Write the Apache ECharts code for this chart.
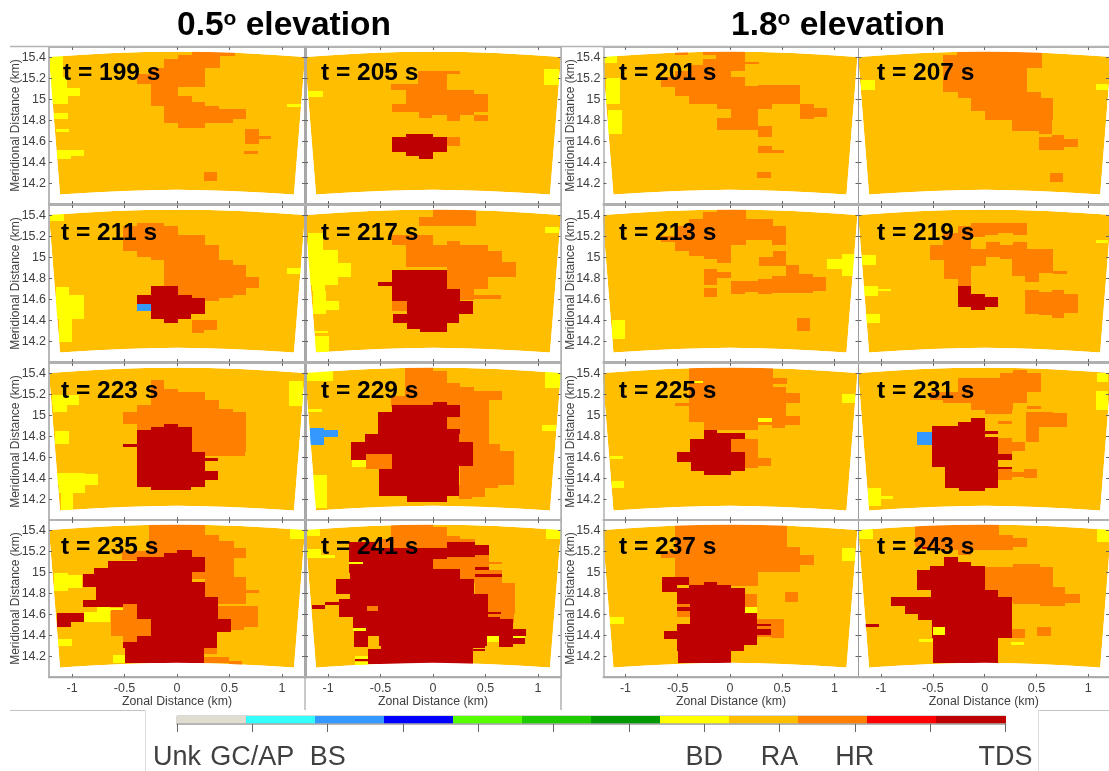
<!DOCTYPE html>
<html><head><meta charset="utf-8">
<style>html,body{margin:0;padding:0;background:#fff}#c{width:1109px;height:771px}</style>
<script src="https://cdn.jsdelivr.net/npm/echarts@6/dist/echarts.min.js"></script></head>
<body><div id="c"></div>
<script>
// class indices
const BS=2,BD=7,RA=8,HR=9,TDS=11;
const classColors=['#E0DCD0','#33FFFF','#3399FF','#0000FF','#55FF00','#1FCC00','#009900','#FFFF00','#FFBF00','#FF8000','#FF0000','#BF0000'];
const classTickLabels={0:'Unk',1:'GC/AP',2:'BS',7:'BD',8:'RA',9:'HR',11:'TDS'};
const classTicks=[0,1,2,3,4,5,6,7,8,9,10,11];
const classLabelTicks=[0,1,2,7,8,9,11];
const xTicks=[-1,-0.5,0,0.5,1];
const yTicks=[14.2,14.4,14.6,14.8,15,15.2,15.4];
// sector outline of the radar field (km)
const fieldTop=[[-1.22,15.405],[-0.9,15.425],[-0.6,15.443],[-0.3,15.452],[0,15.455],[0.3,15.452],[0.6,15.443],[0.9,15.425],[1.22,15.405]];
const fieldBottom=[[1.115,14.09],[0.8,14.11],[0.5,14.125],[0.25,14.132],[0,14.135],[-0.25,14.132],[-0.5,14.125],[-0.8,14.11],[-1.115,14.09]];
const titles=[199,205,201,207,211,217,213,219,223,229,225,231,235,241,237,243];
// each row: class, x0, x1, yTop, yBottom (km)
const c199=[[BD,-1.22,-1.09,15.41,15.21],[BD,-1.2,-1.05,15.21,15.11],[BD,-1.2,-.92,15.11,15.03],[BD,-1.2,-1.04,15.03,14.96],[BD,-1.2,-1.04,14.87,14.81],[BD,-1.15,-1.03,14.72,14.69],[BD,-1.14,-.89,14.52,14.46],[BD,-1.14,-1.01,14.46,14.43],[BD,1.05,1.18,14.96,14.93],
[HR,.14,.55,15.46,15.41],[HR,.01,.41,15.42,15.39],[HR,-.12,.41,15.39,15.3],[HR,-.25,.27,15.3,15.12],[HR,-.38,-.25,15.24,15.15],[HR,-.25,.01,15.12,15.03],[HR,-.25,.14,15.03,14.97],[HR,-.25,.27,14.97,14.94],[HR,-.12,.4,14.94,14.91],[HR,-.12,.66,14.91,14.81],[HR,-.12,.53,14.81,14.77],[HR,.01,.27,14.77,14.73],
[HR,.65,.78,14.72,14.57],[HR,.78,.9,14.65,14.62],[HR,.64,.77,14.51,14.48],[HR,.26,.38,14.31,14.22]];
const c205=[[BD,-1.19,-1.05,15.08,15.02],[BD,1.06,1.2,15.29,15.14],
[HR,.13,.26,15.27,15.24],[HR,-.14,.13,15.27,15.09],[HR,-.4,-.13,15.15,15.09],[HR,-.26,.39,15.09,15.05],[HR,-.26,.52,15.05,14.96],[HR,-.39,.52,14.96,14.88],[HR,-.13,-.01,14.88,14.82],[HR,-.01,.39,14.88,14.85],[HR,.13,.26,14.85,14.79],[HR,.39,.52,14.85,14.79],[HR,.13,.26,14.64,14.55],
[TDS,-.39,.13,14.64,14.5],[TDS,-.26,0,14.67,14.64],[TDS,-.26,0,14.5,14.46],[TDS,-.13,0,14.46,14.43]];
const c211=[[BD,-1.22,-1.08,15.41,15.35],[BD,-1.15,-1.03,14.72,14.64],[BD,-1.15,-.89,14.64,14.41],[BD,-1.12,-1,14.41,14.19],[BD,1.05,1.18,14.9,14.84],
[HR,-.38,-.12,15.33,15.3],[HR,-.51,.01,15.3,15.21],[HR,-.51,.27,15.21,15.12],[HR,-.51,.4,15.12,15.06],[HR,-.38,.4,15.06,15],[HR,-.25,.4,15,14.97],[HR,-.12,.53,14.97,14.93],[HR,-.12,.66,14.93,14.81],[HR,-.12,.78,14.81,14.73],[HR,.01,.78,14.73,14.71],[HR,.01,.66,14.71,14.64],[HR,.14,.53,14.64,14.61],[HR,.27,.4,14.61,14.58],[HR,.14,.38,14.4,14.31],[HR,.14,.26,14.31,14.28],
[TDS,-.25,.01,14.73,14.64],[TDS,-.38,.14,14.64,14.61],[TDS,-.38,.27,14.61,14.55],[TDS,-.25,.27,14.55,14.46],[TDS,-.25,.13,14.46,14.41],[TDS,-.12,.01,14.41,14.37],
[BS,-.38,-.25,14.55,14.49]];
const c217=[[BD,-1.19,-1.05,15.23,15.07],[BD,-1.19,-.91,15.07,14.95],[BD,-1.19,-.78,14.95,14.81],[BD,-1.17,-.91,14.81,14.74],[BD,-1.15,-1.03,14.74,14.68],[BD,-1.14,-1.02,14.68,14.58],[BD,-1.14,-.9,14.58,14.5],[BD,-1.14,-1.02,14.5,14.46],[BD,-1.12,-1,14.3,14.28],[BD,-1.12,-.99,14.25,14.1],[BD,1.07,1.2,15.29,15.23],
[HR,0,.41,15.46,15.39],[HR,-.13,.41,15.39,15.3],[HR,-.39,0,15.21,15.12],[HR,.13,.26,15.16,15.12],[HR,-.26,.52,15.12,15.06],[HR,-.26,.66,15.06,14.96],[HR,-.26,.79,14.96,14.91],[HR,.13,.79,14.91,14.81],[HR,.13,.52,14.81,14.7],[HR,.26,.39,14.7,14.59],[HR,.39,.65,14.64,14.6],[HR,-.39,-.25,14.58,14.49],
[TDS,-.52,-.39,14.76,14.73],[TDS,-.39,.13,14.88,14.58],[TDS,.13,.26,14.7,14.58],[TDS,-.25,.38,14.58,14.46],[TDS,-.38,.25,14.46,14.37],[TDS,-.25,.13,14.37,14.32],[TDS,-.12,.13,14.32,14.29]];
const c223=[[BD,1.07,1.2,15.33,15.09],[BD,-1.19,-.93,15.19,15.1],[BD,-1.18,-1.05,15.1,15.03],[BD,-1.16,-1.03,14.85,14.73],[BD,-1.14,-.88,14.45,14.44],[BD,-1.14,-.75,14.44,14.33],[BD,-1.12,-.88,14.33,14.26],[BD,-1.11,-.99,14.26,14.1],
[HR,-.25,-.12,15.34,15.25],[HR,-.25,.01,15.25,15.22],[HR,-.25,.27,15.22,15.15],[HR,-.25,.4,15.15,15.1],[HR,-.38,.4,15.1,15.06],[HR,-.38,.53,15.06,15.03],[HR,-.51,.66,15.03,14.92],[HR,-.38,.66,14.92,14.86],[HR,.14,.66,14.89,14.65],[HR,.27,.65,14.65,14.61],
[TDS,-.12,.01,14.92,14.89],[TDS,-.25,.14,14.89,14.86],[TDS,-.38,.14,14.86,14.65],[TDS,-.51,-.38,14.73,14.7],[TDS,-.38,.27,14.65,14.32],[TDS,.27,.39,14.59,14.56],[TDS,.27,.39,14.47,14.38],[TDS,-.25,.13,14.32,14.29]];
const c229=[[BD,-1.22,-.95,15.42,15.33],[BD,-1.19,-1.06,15.06,15.03],[BD,1.07,1.22,15.42,15.26],[BD,1.04,1.17,14.91,14.85],[BD,-1.14,-1.01,14.43,14.11],[BD,-.77,-.64,14.57,14.51],
[BS,-1.17,-1.04,14.88,14.72],[BS,-1.04,-.91,14.86,14.79],
[HR,-.27,0,15.46,15.42],[HR,-.27,.13,15.42,15.31],[HR,-.27,.26,15.31,15.27],[HR,-.27,.39,15.27,15.23],[HR,-.27,.66,15.23,15.15],[HR,-.4,.53,15.18,15.08],[HR,.13,.53,15.15,14.73],[HR,.26,.64,14.73,14.66],[HR,.26,.77,14.66,14.33],[HR,.25,.62,14.33,14.31],[HR,.25,.5,14.31,14.22],[HR,.25,.37,14.22,14.2],
[TDS,0,.13,15.13,15.1],[TDS,-.13,.26,15.1,14.98],[TDS,-.39,.13,15.1,14.98],[TDS,-.52,.13,15.03,14.87],[TDS,-.52,.26,14.87,14.82],[TDS,-.65,.25,14.82,14.73],[TDS,-.78,.38,14.75,14.57],[TDS,-.64,.38,14.57,14.52],[TDS,-.51,.25,14.52,14.23],[TDS,-.25,.13,14.23,14.17],
[HR,-.64,-.39,14.63,14.49]];
const c235=[[BD,1.08,1.21,15.41,15.32],[BD,-1.17,-1.04,14.99,14.82],[BD,-1.04,-.91,14.97,14.85],[BD,-.89,-.64,14.62,14.53],[BD,-.76,-.64,14.68,14.62],[BD,-.64,-.51,14.66,14.63],[BD,-1.13,-1,14.36,14.3],[BD,-.61,-.49,14.21,14.13],[BD,-.49,-.37,14.16,14.13],
[HR,-.27,.27,15.46,15.36],[HR,-.27,.4,15.36,15.3],[HR,-.27,.54,15.3,15.23],[HR,-.27,.66,15.23,15.14],[HR,-.52,-.27,15.2,15.12],[HR,.1,.54,15.14,14.94],[HR,.27,.66,14.96,14.7],[HR,.39,.77,14.68,14.48],[HR,.39,.64,14.48,14.45],[HR,.66,.78,14.83,14.8],[HR,.26,.38,14.28,14.22],[HR,.14,.5,14.19,14.13],[HR,.5,.62,14.15,14.1],
[BD,.14,.26,14.17,14.15],
[TDS,0,.14,15.21,15.15],[TDS,-.12,.14,15.18,15.15],[TDS,-.38,.27,15.15,15.11],[TDS,-.66,.27,15.11,15.04],[TDS,-.79,.27,15.04,15],[TDS,-.79,.14,15,14.98],[TDS,-.9,.14,14.98,14.91],[TDS,-.9,.27,14.91,14.86],[TDS,-.77,.27,14.86,14.76],[TDS,-.77,.39,14.76,14.74],[TDS,-.9,.39,14.74,14.67],[TDS,-.51,.39,14.67,14.55],[TDS,-.51,.51,14.55,14.43],[TDS,-.51,.38,14.43,14.28],[TDS,-.5,.26,14.28,14.13],[TDS,-1.14,-.89,14.61,14.53],[TDS,-1.14,-1.01,14.53,14.48],
[HR,-.51,-.38,14.7,14.62],[HR,-.63,-.38,14.64,14.55],[HR,-.63,-.25,14.55,14.39],[HR,-.51,-.38,14.39,14.33]];
const c241=[[BD,-1.22,-1.08,15.41,15.35],[BD,-1.2,-1.07,15.22,15.14],[BD,-1.07,-.93,15.17,15.14],[BD,1.08,1.22,15.41,15.32],[BD,.51,.63,14.39,14.33],
[HR,-.4,0,15.46,15.43],[HR,-.4,.13,15.43,15.35],[HR,-.4,.26,15.35,15.32],[HR,-.54,.4,15.32,15.29],[HR,-.54,.13,15.29,15.23],[HR,.39,.53,15.17,15.09],[HR,0,.53,15.15,15.02],[HR,.52,.66,15.1,15.08],[HR,.26,.53,15.08,14.9],[HR,.26,.66,15.02,14.9],[HR,.4,.78,14.9,14.6],[HR,.52,.77,14.6,14.52],
[TDS,.13,.4,15.29,15.26],[TDS,.13,.53,15.26,15.17],[TDS,-.8,-.54,15.29,15.22],[TDS,-.54,.13,15.23,15.13],[TDS,-.8,.4,15.22,15.15],[TDS,-.8,0,15.15,15.03],[TDS,-.8,.26,15.03,14.99],[TDS,-.79,.26,14.99,14.94],[TDS,-.92,.39,14.94,14.79],[TDS,-.79,.52,14.79,14.75],[TDS,-1.03,-.78,14.72,14.69],[TDS,-1.15,-1.03,14.69,14.65],[TDS,-.9,.52,14.75,14.57],[TDS,-.76,.64,14.57,14.55],[TDS,-.76,.76,14.55,14.46],[TDS,-.75,.89,14.46,14.39],[TDS,-.51,.51,14.39,14.3],[TDS,-.75,-.62,14.44,14.29],[TDS,.63,.76,14.39,14.29],[TDS,.76,.88,14.37,14.32],[TDS,-.5,.38,14.3,14.27],[TDS,-.62,.38,14.27,14.12],[TDS,.38,.5,14.27,14.25],[TDS,.38,.5,14.31,14.28],[TDS,-.74,-.62,14.17,14.15],
[TDS,.4,.53,15.05,15.02],[TDS,.4,.66,14.98,14.96],[TDS,.52,.65,14.62,14.6],
[HR,-.63,-.52,14.68,14.63],[HR,.52,.66,15.1,15.08],
[BD,-.8,-.67,15.1,15.08],[BD,-.76,-.64,14.47,14.44],[BD,.51,.63,14.39,14.33],[BD,.76,.88,14.39,14.37],[BD,-.74,-.62,14.2,14.17],[BD,-.74,-.62,14.14,14.11]];
const c201=[[BD,-1.21,-1.08,15.41,15.35],[BD,-1.19,-1.05,15.2,14.96],[BD,-1.17,-1.03,14.9,14.67],
[HR,-.53,-.4,15.46,15.42],[HR,-.26,-.13,15.46,15.42],[HR,-.13,.14,15.46,15.39],[HR,.14,.28,15.36,15.34],[HR,-.26,.14,15.39,15.33],[HR,-.39,.14,15.33,15.27],[HR,-.53,.01,15.27,15.21],[HR,-.66,.14,15.21,15.12],[HR,.14,.27,15.13,15.11],[HR,.27,.67,15.14,15.03],[HR,-.53,.27,15.12,15.03],[HR,-.39,.67,15.03,14.96],[HR,-.12,.4,14.96,14.91],[HR,.01,.27,14.91,14.82],[HR,-.12,.27,14.82,14.71],[HR,.27,.4,14.75,14.64],[HR,.67,.8,14.96,14.81],[HR,.8,.93,14.92,14.83],[HR,.27,.4,14.55,14.49],[HR,.4,.52,14.52,14.49],[HR,.26,.39,14.31,14.25]];
const c207=[[BD,-1.19,-1.06,15.18,15.09],[BD,1.07,1.19,15.15,15.09],
[HR,-.27,.55,15.46,15.3],[HR,-.4,-.27,15.42,15.3],[HR,-.4,.41,15.3,15.07],[HR,-.26,.54,15.07,15.01],[HR,-.13,.66,15.01,14.89],[HR,0,.66,14.89,14.8],[HR,.26,.65,14.8,14.7],[HR,.52,.65,14.7,14.67],[HR,.52,.77,14.64,14.52],[HR,.65,.77,14.66,14.64],[HR,.77,.9,14.62,14.54],[HR,.63,.76,14.3,14.21]];
const c213=[[BD,.93,1.07,14.98,14.89],[BD,1.07,1.2,15.03,14.82],[BD,-1.13,-1,14.4,14.22],
[HR,-.12,.15,15.46,15.37],[HR,-.26,.15,15.43,15.37],[HR,-.39,.41,15.37,15.3],[HR,-.53,.54,15.3,15.2],[HR,-.66,-.53,15.2,15.15],[HR,-.53,.15,15.2,15.12],[HR,.4,.54,15.2,15.12],[HR,.15,.4,15.2,15.17],[HR,-.53,.01,15.12,15.06],[HR,-.39,.01,15.06,15.01],[HR,-.25,.01,15.01,14.98],[HR,-.12,.01,14.98,14.95],
[HR,-.25,-.12,14.89,14.74],[HR,-.12,.01,14.86,14.8],[HR,-.25,-.12,14.71,14.62],[HR,.28,.54,15,14.92],[HR,.41,.54,15.06,15],[HR,.54,.66,14.93,14.67],[HR,.01,.14,14.77,14.65],[HR,.14,.27,14.77,14.67],[HR,.27,.4,14.79,14.65],[HR,.4,.66,14.82,14.66],[HR,.66,.79,14.84,14.66],[HR,.79,.92,14.81,14.68],[HR,.64,.77,14.42,14.3]];
const c219=[[BD,-1.18,-1.05,15.02,14.93],[BD,-1.16,-1.03,14.73,14.63],[BD,-1.03,-.9,14.7,14.68],[BD,-1.14,-1.01,14.46,14.37],[BD,1.07,1.19,15.17,15.14],
[HR,-.13,.41,15.33,15.23],[HR,-.13,0,15.23,15.19],[HR,0,.13,15.23,15.21],[HR,.27,.41,15.23,15.21],[HR,-.26,-.13,15.3,15.14],[HR,-.4,-.13,15.23,15.12],[HR,-.53,-.13,15.12,14.97],[HR,-.13,.01,15.08,14.92],[HR,.01,.15,15.15,15],[HR,-.13,.15,15.08,15],[HR,.15,.27,15.12,14.98],[HR,.27,.41,15.15,14.86],[HR,.41,.66,15.08,14.85],[HR,.26,.41,15,14.82],[HR,.39,.52,14.85,14.76],[HR,.66,.79,14.87,14.84],[HR,-.39,-.13,14.97,14.79],[HR,-.26,-.13,14.79,14.73],
[HR,.39,.52,14.69,14.46],[HR,.52,.65,14.67,14.45],[HR,.65,.77,14.69,14.42],[HR,.77,.9,14.65,14.47],
[TDS,-.26,-.13,14.73,14.53],[TDS,-.13,0,14.65,14.5],[TDS,0,.13,14.62,14.53]];
const c225=[[BD,-1.15,-1.02,14.61,14.58],[BD,-1.13,-1.01,14.37,14.31],[BD,1.07,1.2,15.2,15.12],
[HR,-.39,.41,15.46,15.27],[HR,.41,.55,15.36,15.3],[HR,-.39,.54,15.27,15.21],[HR,-.39,.67,15.21,15.12],[HR,-.53,-.39,15.12,15.09],[HR,-.39,.54,15.12,14.99],[HR,-.39,.67,14.99,14.94],[HR,-.25,.27,14.94,14.86],[HR,.27,.4,14.94,14.91],[HR,.4,.53,14.94,14.88],[HR,.53,.67,14.94,14.91],
[BD,.27,.4,14.97,14.94],[BD,-.37,-.26,15.33,15.31],
[HR,.01,.27,14.77,14.65],[HR,.14,.27,14.77,14.5],[HR,.27,.39,14.59,14.52],
[TDS,-.25,-.12,14.86,14.83],[TDS,-.25,.14,14.83,14.77],[TDS,-.38,.01,14.77,14.65],[TDS,-.51,.14,14.65,14.55],[TDS,-.37,.14,14.55,14.47],[TDS,-.25,.01,14.47,14.43]];
const c231=[[BD,-1.13,-1,14.31,14.13],[BD,-1,-.88,14.23,14.2],[BD,1.07,1.19,15.23,15.05],[BD,1.08,1.19,15.4,15.32],
[BS,-.65,-.51,14.84,14.72],
[HR,.27,.41,15.43,15.39],[HR,.15,.54,15.4,15.36],[HR,-.26,.54,15.36,15.22],[HR,-.53,.41,15.22,15.15],[HR,-.4,.41,15.15,15.12],[HR,-.13,.27,15.12,15.05],[HR,0,.26,15.05,15.01],[HR,.41,.54,15.09,15.06],[HR,.13,.26,14.95,14.92],
[HR,.4,.66,15.03,14.89],[HR,.66,.79,15.02,14.89],[HR,.4,.52,14.89,14.75],[HR,.13,.26,14.78,14.63],[HR,.26,.39,14.75,14.66],[HR,.13,.26,14.49,14.38],[HR,.26,.38,14.46,14.41],[HR,.38,.51,14.49,14.4],
[TDS,-.13,0,14.97,14.94],[TDS,-.26,0,14.94,14.9],[TDS,-.51,0,14.9,14.79],[TDS,0,.13,14.85,14.82],[TDS,-.51,.13,14.79,14.51],[TDS,.13,.26,14.63,14.57],[TDS,.13,.26,14.51,14.49],[TDS,-.38,.13,14.51,14.31],[TDS,-.25,0,14.31,14.28]];
const c237=[[BD,-1.15,-1.01,14.57,14.51],[BD,1.07,1.2,15.23,15.11],
[HR,-.53,.55,15.46,15.24],[HR,-.66,-.53,15.2,15.14],[HR,-.53,.67,15.24,15.17],[HR,-.53,.8,15.17,15.07],[HR,-.53,.67,15.07,15],[HR,-.53,.27,15,14.89],[HR,.4,.67,15.03,15],[HR,-.39,.27,14.89,14.87],
[HR,.14,.26,14.79,14.67],[HR,.53,.65,14.81,14.72],[HR,.39,.52,14.55,14.37],[HR,.26,.39,14.55,14.38],
[TDS,-.65,-.39,14.96,14.88],[TDS,-.65,-.51,14.88,14.81],[TDS,-.39,-.25,14.88,14.85],[TDS,-.25,-.12,14.91,14.85],[TDS,-.12,.01,14.88,14.85],[TDS,-.51,.14,14.85,14.61],[TDS,-.38,.26,14.61,14.51],[TDS,-.51,.26,14.51,14.44],[TDS,-.63,.26,14.44,14.36],[TDS,-.51,.26,14.36,14.31],[TDS,-.51,.13,14.31,14.25],[TDS,-.5,.01,14.25,14.13],
[TDS,.26,.39,14.51,14.49],[TDS,.26,.39,14.46,14.4],
[HR,.14,.26,14.79,14.67],[HR,-.51,-.38,14.7,14.67],[HR,-.51,-.38,14.63,14.57],
[BD,.14,.26,14.67,14.61]];
const c243=[[BD,-1.22,-1.08,15.41,15.32],[BD,1.08,1.21,15.41,15.29],[BD,-.63,-.5,14.36,14.33],[BD,.25,.38,14.33,14.31],
[HR,-.67,.14,15.46,15.36],[HR,-.67,.27,15.36,15.33],[HR,-.67,.41,15.33,15.24],[HR,-.53,.27,15.24,15.21],[HR,-.26,-.13,15.21,15.17],[HR,.27,.53,15.08,15.05],[HR,0,.66,15.05,14.86],[HR,0,.78,14.86,14.81],[HR,.13,.78,14.81,14.72],[HR,.78,.92,14.79,14.71],[HR,.27,.78,14.73,14.7],[HR,.53,.78,14.7,14.68],[HR,.26,.39,14.46,14.37],[HR,.51,.64,14.48,14.39],
[TDS,-.6,-.54,15.24,15.22],[TDS,-.39,-.26,15.15,15.1],[TDS,-.39,-.13,15.1,15.06],[TDS,-.53,0,15.06,15.02],[TDS,-.65,0,15.02,14.83],[TDS,-.52,.13,14.83,14.76],[TDS,-.9,.26,14.76,14.68],[TDS,-.77,.26,14.68,14.6],[TDS,-.64,.26,14.6,14.54],[TDS,-.51,.26,14.54,14.37],[TDS,-.5,.13,14.37,14.13],[TDS,-1.15,-1.02,14.51,14.48],
[BD,-.5,-.38,14.48,14.4]];
const panels=[c199,c205,c201,c207,c211,c217,c213,c219,c223,c229,c225,c231,c235,c241,c237,c243];

const gridLefts=[49,305,603.5,858.5],gridWidths=[256,256,255,253];
const xRanges=[[-1.22,1.22],[-1.22,1.22],[-1.21,1.23],[-1.217,1.2]];
const gridTops=[47,205,363,520],gridH=157;
const yMin=14,yMax=15.5;
const labelX=[[63,321,619,877],[61,321,619,877],[61,321,619,877],[61,321,619,877]];
const labelY=[73,233,391,547];
const font='"Liberation Sans",Arial,sans-serif';
const grid=[],xAxis=[],yAxis=[],series=[],title=[];
const lineCol=['#b8b8b8','#a8a8a8','#b0b0b0','#9a9a9a'];
const lineW=[2,3,1.5,1];
panels.forEach((rows,i)=>{
  const r=Math.floor(i/4),c=i%4;
  grid.push({left:gridLefts[c],top:gridTops[r],width:gridWidths[c],height:gridH});
  const bottom=r===3;
  const xbase={type:'value',gridIndex:i,min:xRanges[c][0],max:xRanges[c][1],splitLine:{show:false},z:10,
    axisLine:{show:true,onZero:false,lineStyle:{color:'#b0b0b0',width:2}},
    axisTick:{show:true,inside:true,length:3,customValues:xTicks,lineStyle:{color:'#666',width:1}}};
  xAxis.push(Object.assign({},xbase,{position:'bottom',
    axisLabel:{show:bottom,customValues:xTicks,formatter:v=>String(v),margin:5,color:'#404040',fontSize:12.5,fontFamily:font},
    name:bottom?'Zonal Distance (km)':'',nameLocation:'middle',nameGap:19,nameTextStyle:{color:'#404040',fontSize:12.3,fontFamily:font}}));
  xAxis.push(Object.assign({},xbase,{position:'top',axisLabel:{show:false}}));
  const ybase={type:'value',gridIndex:i,min:yMin,max:yMax,splitLine:{show:false},z:10,
    axisTick:{show:true,inside:true,length:3,customValues:yTicks,lineStyle:{color:'#666',width:1}}};
  const lab=c===0||c===2;
  yAxis.push(Object.assign({},ybase,{position:'left',
    axisLine:{show:true,onZero:false,lineStyle:{color:lineCol[c],width:lineW[c]}},
    axisLabel:{show:lab,customValues:yTicks,formatter:v=>String(v),margin:3,color:'#404040',fontSize:12.5,fontFamily:font},
    name:lab?'Meridional Distance (km)':'',nameLocation:'middle',nameGap:33,nameRotate:90,nameMoveOverlap:false,nameTextStyle:{color:'#404040',fontSize:12,fontFamily:font,padding:0,verticalAlign:'middle'}}));
  yAxis.push(Object.assign({},ybase,{position:'right',
    axisLine:{show:true,onZero:false,lineStyle:{color:'#b0b0b0',width:1}},axisLabel:{show:false}}));
  const xi=2*i,yi=2*i;
  const poly=(pts,fill,api)=>({type:'polygon',shape:{points:pts.map(p=>api.coord(p))},style:{fill:fill}});
  // radar field
  series.push({type:'custom',xAxisIndex:xi,yAxisIndex:yi,z:2,silent:true,animation:false,clip:true,
    data:[[0]],renderItem:(p,api)=>poly(fieldTop.concat(fieldBottom),classColors[RA],api)});
  // classified cells
  series.push({type:'custom',xAxisIndex:xi,yAxisIndex:yi,z:3,silent:true,animation:false,clip:true,
    data:rows,renderItem:(p,api)=>{
      const a=api.coord([api.value(1),api.value(3)]),b=api.coord([api.value(2),api.value(4)]);
      const x0=Math.round(a[0]),y0=Math.round(a[1]),x1=Math.round(b[0]),y1=Math.round(b[1]);
      return {type:'rect',shape:{x:x0,y:y0,width:x1-x0,height:y1-y0},style:{fill:classColors[api.value(0)]}};
    }});
  // white outside of the sector
  const lo=-1.3,hi=1.3;
  const maskTop=[[lo,yMax+.05],[hi,yMax+.05],[hi,fieldTop[8][1]]].concat(fieldTop.slice().reverse()).concat([[lo,fieldTop[0][1]]]);
  const maskBot=[[lo,fieldTop[0][1]],fieldTop[0]].concat(fieldBottom.slice().reverse()).concat([fieldTop[8],[hi,fieldTop[8][1]],[hi,yMin],[lo,yMin]]);
  series.push({type:'custom',xAxisIndex:xi,yAxisIndex:yi,z:4,silent:true,animation:false,clip:true,
    data:[[0],[1]],renderItem:(p,api)=>poly(p.dataIndex===0?maskTop:maskBot,'#fff',api)});
  title.push({text:'t = '+titles[i]+' s',left:labelX[r][c],top:labelY[r]-14,z:20,padding:0,
    textStyle:{fontFamily:font,fontWeight:'bold',fontSize:24.5,color:'#000',lineHeight:28}});
});
const rich={a:{fontFamily:font,fontWeight:'bold',fontSize:33.5,color:'#000'},o:{fontFamily:font,fontWeight:'bold',fontSize:21,color:'#000',verticalAlign:'top',padding:[0,0,12,0]}};
title.push({text:'{a|0.5}{o|o}{a| elevation}',left:177,top:9,padding:0,textStyle:{rich}});
title.push({text:'{a|1.8}{o|o}{a| elevation}',left:731,top:9,padding:0,textStyle:{rich}});
// colour bar
const n=panels.length;
grid.push({left:177,top:716,width:828.5,height:10,show:true,borderColor:'#b0b0b0',borderWidth:1});
xAxis.push({type:'value',gridIndex:n,min:0,max:11,position:'bottom',splitLine:{show:false},z:10,
  axisLine:{show:true,lineStyle:{color:'#aaa',width:1.5}},
  axisTick:{show:true,length:8,customValues:classTicks,lineStyle:{color:'#666',width:1}},
  axisLabel:{show:true,customValues:classLabelTicks,formatter:v=>classTickLabels[v]||'',margin:20,color:'#404040',fontSize:27,fontFamily:font,hideOverlap:false}});
yAxis.push({type:'value',gridIndex:n,min:0,max:1,show:false});
series.push({type:'custom',xAxisIndex:2*n,yAxisIndex:2*n,z:3,silent:true,animation:false,
  data:classColors.map((c,i)=>[i]),renderItem:(p,api)=>{
    const i=api.value(0),w=11/classColors.length;
    const a=api.coord([i*w,1]),b=api.coord([(i+1)*w,0]);
    return {type:'rect',shape:{x:Math.round(a[0]),y:a[1],width:Math.round(b[0])-Math.round(a[0]),height:b[1]-a[1]},style:{fill:classColors[i]}};
  }});
// page frame lines of the original montage
const L=(x1,y1,x2,y2,c,w)=>({type:'line',silent:true,z:30,shape:{x1,y1,x2,y2},style:{stroke:c,lineWidth:w}});
const graphic=[L(10,46.5,1109,46.5,'#b4b4b4',1.5),L(561,46,561,710,'#b0b0b0',1.5),L(305,677,305,710,'#b8b8b8',1.5),
 L(10,710.5,145,710.5,'#c4c4c4',1),L(1039,710.5,1109,710.5,'#c4c4c4',1),L(145.5,710,145.5,771,'#dcdcdc',1),L(1038.5,710,1038.5,771,'#dcdcdc',1),
 L(48,677.5,561,677.5,'#aaa',1.5),L(603,677.5,1109,677.5,'#aaa',1.5)];
const chart=echarts.init(document.getElementById('c'),null,{renderer:'canvas'});
chart.setOption({animation:false,backgroundColor:'#fff',grid,xAxis,yAxis,series,title,graphic});
</script></body></html>
